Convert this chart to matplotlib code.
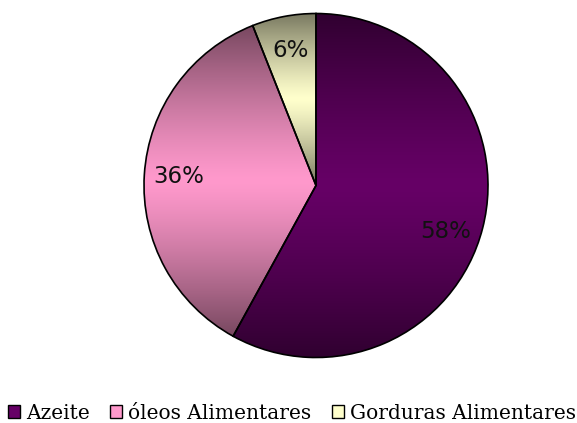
import numpy as np
import matplotlib
matplotlib.use("Agg")
import matplotlib.pyplot as plt
from matplotlib.patches import Rectangle
from matplotlib.colors import to_rgb

categories = ["Azeite", "óleos Alimentares", "Gorduras Alimentares"]
shares = [58, 36, 6]
base_colors = ["#660066", "#ff99cc", "#ffffcc"]

W, H = 577, 423
fig = plt.figure(figsize=(W / 100, H / 100), dpi=100)
fig.patch.set_facecolor("white")

cx, cy, r = 316, 185.5, 172
lim = 1.01
half = r * lim
ax = fig.add_axes([(cx - half) / W, (H - cy - half) / H, 2 * half / W, 2 * half / H])

wedges, texts, autotexts = ax.pie(
    shares, colors=base_colors, startangle=90, counterclock=False,
    autopct=lambda p: f"{p:.0f}%", pctdistance=0.80,
    wedgeprops=dict(edgecolor="black", linewidth=1.2, zorder=3),
    textprops=dict(fontsize=16.5, color="#111111", family="DejaVu Sans"),
)


def wedge_yrange(w):
    t1, t2 = sorted((w.theta1, w.theta2))
    th = np.radians(np.linspace(t1, t2, 721))
    ys = np.concatenate([[w.center[1]], w.center[1] + w.r * np.sin(th)])
    return ys.min(), ys.max()


# each slice is shaded vertically over its own height:
# darker at its top and bottom, full colour through its middle
for w, c in zip(wedges, base_colors):
    y0, y1 = wedge_yrange(w)
    t = np.linspace(-1, 1, 400)
    shade = 0.47 + 0.53 * (1 - np.abs(t) ** 1.25)
    rgb = np.array(to_rgb(c))
    grad = shade[:, None, None] * rgb[None, None, :]
    grad = np.repeat(grad, 2, axis=1)
    im = ax.imshow(grad, extent=(-1, 1, y0, y1), zorder=2,
                   interpolation="bilinear", aspect="auto")
    im.set_clip_path(w)
    w.set_facecolor("none")

# rotate the label of the large slice a little further clockwise
label_turn = [-5.0, 0.0, 0.0]
for w, t, turn in zip(wedges, autotexts, label_turn):
    ang = np.radians((w.theta1 + w.theta2) / 2 + turn)
    t.set_position((0.80 * np.cos(ang), 0.80 * np.sin(ang)))
    t.set_zorder(5)

ax.set_xlim(-lim, lim)
ax.set_ylim(-lim, lim)
ax.set_aspect("equal")
ax.axis("off")

handles = [Rectangle((0, 0), 1, 1, facecolor=c, edgecolor="black", linewidth=1.0)
           for c in base_colors]
fig.legend(handles, categories, ncol=3, loc="center",
           bbox_to_anchor=(292 / W, 1 - 413 / H), frameon=False,
           prop=dict(family="DejaVu Serif", size=14.5),
           handlelength=0.6, handleheight=0.6, handletextpad=0.3,
           columnspacing=1.0, borderpad=0)

fig.savefig("out.png", dpi=100)
